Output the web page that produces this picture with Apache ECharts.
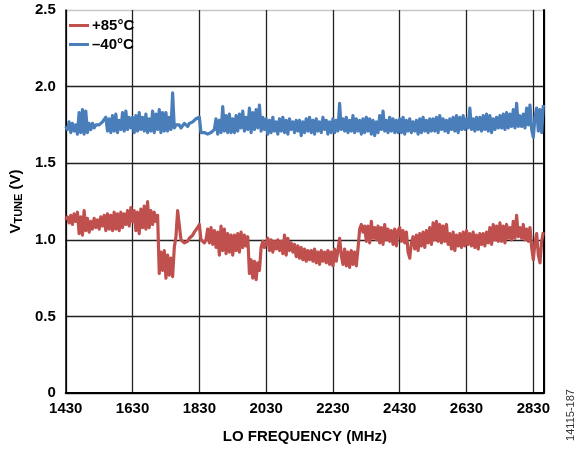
<!DOCTYPE html>
<html>
<head>
<meta charset="utf-8">
<script src="https://cdn.jsdelivr.net/npm/echarts@6/dist/echarts.min.js"></script>
<style>html,body{margin:0;padding:0;background:#fff}#c{width:576px;height:450px}</style>
</head>
<body>
<div id="c"></div>
<script>
// LO frequency sampling (MHz): first point and step
var freqStart = 1430;
var freqStep = 5;
// V_TUNE (V) at +85°C, one value per 5 MHz from 1430 to 2860 (rows of 100 MHz)
var vtune85 = [
  1.13,1.15,1.11,1.16,1.10,1.17,1.12,1.18,1.04,1.15,1.03,1.19,1.06,1.14,1.05,1.12,1.07,1.14,1.08,1.13,
  1.07,1.15,1.09,1.16,1.06,1.17,1.07,1.16,1.06,1.18,1.07,1.17,1.06,1.18,1.08,1.17,1.10,1.19,1.09,1.21,
  1.12,1.19,1.06,1.18,1.04,1.20,1.08,1.22,1.07,1.25,1.08,1.19,1.10,1.18,1.12,1.16,0.78,0.92,0.80,0.93,
  0.75,0.90,0.77,0.88,0.76,0.95,1.02,1.19,1.18,1.00,0.99,0.98,0.98,0.99,1.01,1.02,1.03,1.05,1.06,1.08,
  1.10,1.00,0.99,0.98,1.00,1.07,0.98,1.08,0.97,1.06,0.95,1.05,0.90,1.09,0.93,1.07,0.91,1.04,0.92,1.03,
  0.90,1.03,0.93,1.04,0.92,1.05,0.95,1.03,0.96,1.02,0.78,0.87,0.75,0.86,0.74,0.85,0.80,0.95,0.99,0.95,
  0.94,1.01,0.93,1.00,0.92,0.99,0.94,1.00,0.93,0.99,0.91,1.03,0.90,1.01,0.93,0.98,0.92,0.97,0.89,0.96,
  0.88,0.95,0.87,0.94,0.86,0.93,0.87,0.93,0.86,0.94,0.85,0.92,0.84,0.93,0.86,0.92,0.85,0.93,0.84,0.92,
  0.83,0.94,0.86,0.93,1.01,0.90,0.84,0.94,0.83,0.92,0.82,0.93,0.84,0.92,0.83,0.94,1.07,1.10,1.05,1.09,
  0.99,1.09,0.98,1.12,1.01,1.08,1.00,1.09,0.98,1.08,0.97,1.10,1.00,1.07,0.99,1.06,0.97,1.07,0.96,1.06,
  1.08,0.99,1.06,0.98,1.05,0.92,0.88,0.98,1.02,0.94,1.03,0.93,1.04,0.96,1.05,0.95,1.06,0.98,1.08,0.97,
  1.11,1.00,1.12,0.99,1.10,0.98,1.09,0.99,1.10,0.97,1.04,0.94,1.05,0.93,1.03,0.96,1.04,0.95,1.05,0.96,
  1.06,0.97,1.04,0.96,1.05,0.95,1.03,0.94,1.04,0.97,1.04,0.96,1.05,0.98,1.08,0.97,1.10,1.00,1.09,0.99,
  1.11,0.99,1.09,0.98,1.10,1.01,1.08,1.00,1.12,1.01,1.16,1.02,1.08,1.01,1.10,1.00,1.07,0.99,1.08,0.95,
  0.87,0.98,1.04,0.90,0.85,0.99,1.05
];
// V_TUNE (V) at -40°C
var vtuneM40 = [
  1.74,1.72,1.77,1.70,1.76,1.71,1.75,1.69,1.83,1.70,1.85,1.69,1.84,1.70,1.76,1.72,1.76,1.73,1.75,1.74,
  1.75,1.76,1.77,1.78,1.80,1.71,1.79,1.70,1.81,1.71,1.82,1.70,1.78,1.72,1.83,1.71,1.84,1.72,1.80,1.73,
  1.80,1.70,1.81,1.71,1.83,1.72,1.80,1.71,1.82,1.70,1.79,1.71,1.84,1.70,1.82,1.72,1.85,1.70,1.83,1.71,
  1.83,1.71,1.80,1.72,1.96,1.73,1.75,1.74,1.75,1.73,1.74,1.76,1.75,1.74,1.76,1.77,1.77,1.78,1.79,1.80,
  1.80,1.70,1.69,1.70,1.70,1.69,1.69,1.70,1.71,1.72,1.79,1.69,1.78,1.70,1.87,1.71,1.81,1.70,1.82,1.70,
  1.79,1.70,1.81,1.71,1.82,1.73,1.84,1.71,1.80,1.72,1.86,1.70,1.83,1.72,1.85,1.73,1.88,1.71,1.80,1.72,
  1.79,1.69,1.78,1.70,1.80,1.71,1.77,1.69,1.79,1.71,1.80,1.70,1.78,1.69,1.79,1.72,1.77,1.70,1.78,1.71,
  1.78,1.68,1.77,1.70,1.79,1.71,1.80,1.70,1.78,1.69,1.79,1.71,1.77,1.70,1.80,1.72,1.78,1.69,1.77,1.70,
  1.79,1.70,1.78,1.71,1.89,1.72,1.79,1.71,1.80,1.70,1.78,1.71,1.81,1.70,1.79,1.71,1.78,1.69,1.79,1.70,
  1.80,1.71,1.79,1.69,1.78,1.68,1.77,1.70,1.81,1.72,1.84,1.71,1.78,1.70,1.80,1.71,1.79,1.70,1.78,1.70,
  1.79,1.70,1.80,1.69,1.78,1.71,1.79,1.70,1.77,1.71,1.78,1.69,1.79,1.70,1.80,1.71,1.78,1.70,1.79,1.71,
  1.79,1.71,1.80,1.70,1.81,1.72,1.79,1.71,1.78,1.70,1.79,1.72,1.80,1.71,1.81,1.70,1.80,1.72,1.81,1.72,
  1.79,1.73,1.86,1.72,1.79,1.71,1.80,1.72,1.80,1.71,1.81,1.72,1.82,1.71,1.81,1.70,1.79,1.72,1.80,1.73,
  1.81,1.73,1.82,1.72,1.83,1.73,1.82,1.74,1.85,1.73,1.89,1.74,1.81,1.74,1.82,1.73,1.86,1.75,1.88,1.72,
  1.67,1.80,1.86,1.71,1.85,1.70,1.88
];
var xTicks = [1430,1630,1830,2030,2230,2430,2630,2830];
var yTicks = [0,0.5,1.0,1.5,2.0,2.5];
var seriesNames = ['+85°C', '\u201340°C'];

function pairs(vals){
  var out = [];
  for (var i = 0; i < vals.length; i++) out.push([freqStart + i*freqStep, vals[i]]);
  return out;
}
var FF = 'Arial, "Liberation Sans", Helvetica, sans-serif';
var chart = echarts.init(document.getElementById('c'), null, {renderer:'canvas'});
chart.setOption({
  animation: false,
  backgroundColor: '#fff',
  grid: {left: 63, top: 10, right: 32, bottom: 57, containLabel: false},
  legend: {
    left: 64, top: 13, orient: 'vertical', itemGap: 4,
    itemWidth: 20, itemHeight: 3, icon: 'rect',
    textStyle: {fontFamily: FF, fontWeight: 'bold', fontSize: 15, color: '#000', padding: [0,0,0,-2]},
    data: seriesNames
  },
  xAxis: {
    type: 'value', min: 1430, max: 2862, interval: 200,
    name: 'LO FREQUENCY (MHz)', nameLocation: 'middle', nameGap: 36,
    nameTextStyle: {fontFamily: FF, fontWeight: 'bold', fontSize: 15, color: '#000'},
    axisLine: {show: true, onZero: false, lineStyle: {color: '#000', width: 2}},
    axisTick: {show: false},
    axisLabel: {
      margin: 8, fontFamily: FF, fontWeight: 'bold', fontSize: 15, color: '#000',
      formatter: function(v){ return xTicks.indexOf(v) >= 0 ? String(v) : ''; }
    },
    splitLine: {show: true, lineStyle: {color: '#222', width: 1.3}}
  },
  yAxis: [{
    type: 'value', min: 0, max: 2.5, interval: 0.5,
    name: '{v|V}{s|TUNE}{v| (V)}', nameLocation: 'middle', nameGap: 34, nameRotate: 90,
    nameTextStyle: {
      color: '#000',
      rich: {
        v: {fontFamily: FF, fontWeight: 'bold', fontSize: 15, color: '#000'},
        s: {fontFamily: FF, fontWeight: 'bold', fontSize: 11, color: '#000', padding: [6,0,0,0]}
      }
    },
    axisLine: {show: true, lineStyle: {color: '#000', width: 1.5}},
    axisTick: {show: false},
    axisLabel: {
      margin: 10, fontFamily: FF, fontWeight: 'bold', fontSize: 15, color: '#000',
      formatter: function(v){ return v === 0 ? '0' : v.toFixed(1); }
    },
    splitLine: {show: true, lineStyle: {color: ['#222','#222','#222','#222','#222','#c8c8c8'], width: 1.3}}
  }, {
    type: 'value', min: 0, max: 2.5, position: 'right',
    axisLine: {show: true, lineStyle: {color: '#000', width: 2}},
    axisTick: {show: false}, axisLabel: {show: false}, splitLine: {show: false}
  }],
  series: [{
    name: seriesNames[0], type: 'line', data: pairs(vtune85),
    showSymbol: false, symbol: 'none', color: '#C0504D',
    lineStyle: {width: 3.2, color: '#C0504D', join: 'round'}
  }, {
    name: seriesNames[1], type: 'line', data: pairs(vtuneM40),
    showSymbol: false, symbol: 'none', color: '#4A7EBB',
    lineStyle: {width: 3.2, color: '#4A7EBB', join: 'round'}
  }],
  graphic: [{
    type: 'text', x: 571, y: 415, rotation: Math.PI/2,
    style: {text: '14115-187', fill: '#333', font: '11px ' + FF, textAlign: 'center', textVerticalAlign: 'middle'}
  }]
});
</script>
</body>
</html>
